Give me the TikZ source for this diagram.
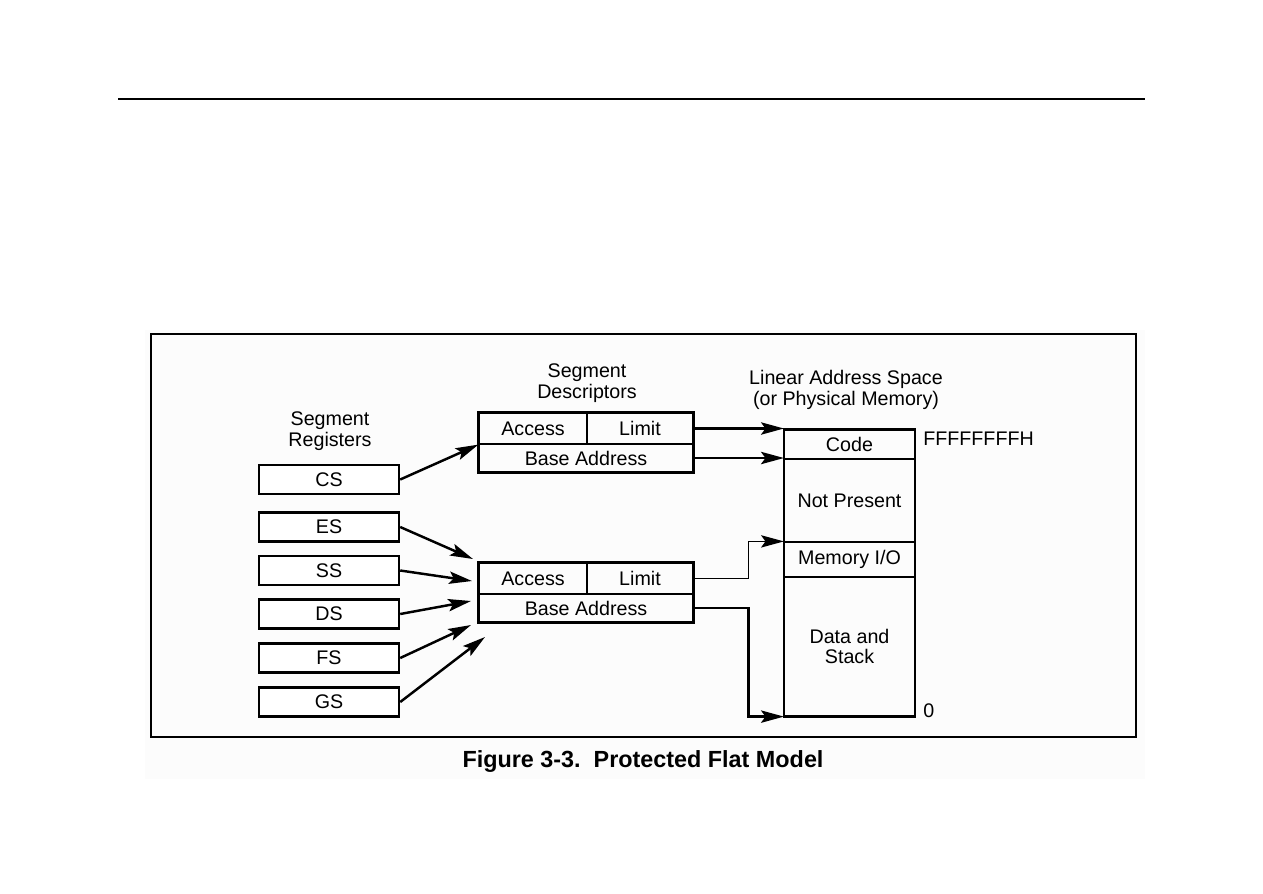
\documentclass[tikz,border=0pt]{standalone}
\usepackage{fontspec}
\setmainfont{Liberation Sans}
\usetikzlibrary{arrows.meta}

\begin{document}
\begin{tikzpicture}[x=0.02cm, y=-0.02cm,
  every node/.style={font=\fontsize{11.2}{11.6}\selectfont},
  box/.style={draw, line width=1.4pt, fill=white, inner sep=0pt, minimum height=0.58cm},
  reg/.style={box, minimum width=2.8cm},
  cell/.style={draw, line width=0.7pt, inner sep=0pt},
  mem/.style={cell, minimum width=2.6cm},
  lbl/.style={align=center, inner sep=0pt},
  ptr/.style={line width=1.4pt, -{Stealth[length=13pt, width=7pt, inset=2.5pt]}}]
  \useasboundingbox (0,0) rectangle (1263,893);
  \fill[gray!2] (145,330) rectangle (1145,779);
  \draw[line width=0.9pt] (118,99) -- (1145,99);
  \draw[line width=1.4pt] (151,334) rectangle (1136,737);

  % segment registers
  \node[lbl] (reglbl) at (330,431) {Segment\\Registers};
  \node[reg] (cs) at (329,479.5) {CS};
  \node[reg] (es) at (329,527) {ES};
  \node[reg] (ss) at (329,570.5) {SS};
  \node[reg] (ds) at (329,614) {DS};
  \node[reg] (fs) at (329,658) {FS};
  \node[reg] (gs) at (329,702) {GS};

  % segment descriptors
  \node[lbl] (desclbl) at (587,383) {Segment\\Descriptors};
  \node[cell, minimum width=2.16cm, minimum height=0.62cm] (acc1) at (533,428.5) {Access};
  \node[cell, minimum width=2.12cm, minimum height=0.62cm] (lim1) at (640,428.5) {Limit};
  \node[cell, minimum width=4.28cm, minimum height=0.56cm] (base1) at (586,458) {Base Address};
  \draw[line width=1.4pt] (acc1.north west) rectangle (base1.south east);
  \node[cell, minimum width=2.16cm, minimum height=0.62cm] (acc2) at (533,578.5) {Access};
  \node[cell, minimum width=2.12cm, minimum height=0.62cm] (lim2) at (640,578.5) {Limit};
  \node[cell, minimum width=4.28cm, minimum height=0.56cm] (base2) at (586,608) {Base Address};
  \draw[line width=1.4pt] (acc2.north west) rectangle (base2.south east);

  % linear address space
  \node[lbl] (memlbl) at (846,390) {Linear Address Space\\(or Physical Memory)};
  \node[mem, minimum height=0.58cm] (code) at (849.5,444.5) {Code};
  \node[mem, minimum height=1.66cm] (notp) at (849.5,500.5) {Not Present};
  \node[mem, minimum height=0.70cm] (mio) at (849.5,559.5) {Memory I/O};
  \node[mem, minimum height=2.78cm, align=center] (data) at (849.5,646.5) {Data and\\Stack};
  \draw[line width=1.4pt] (code.north west) rectangle (data.south east);
  \node[anchor=west, inner sep=0pt] (top) at (923,439) {FFFFFFFFH};
  \node[anchor=west, inner sep=0pt] (bot) at (923,711) {0};

  % arrows
  \coordinate (te) at (473,559);
  \coordinate (ts) at (472,581);
  \coordinate (td) at (471,601);
  \coordinate (tf) at (471,625);
  \coordinate (tg) at (485,637);
  \draw[ptr] (cs.east) -- (acc1.south west);
  \draw[ptr] (es.east) -- (te);
  \draw[ptr] (ss.east) -- (ts);
  \draw[ptr] (ds.east) -- (td);
  \draw[ptr] (fs.east) -- (tf);
  \draw[ptr] (gs.east) -- (tg);
  \draw[ptr] (lim1.east) -- (lim1.east -| code.west);
  \draw[ptr] (base1.east) -- (base1.east -| code.west);
  \draw[ptr, line width=0.8pt] (lim2.east) -- ++(55,0) |- (mio.north west);
  \draw[ptr] (base2.east) -- ++(55,0) |- (data.south west);

  \node[font=\fontsize{13.3}{15}\selectfont\bfseries] (caption) at (643,761)
    {Figure 3-3.\ \ Protected Flat Model};
\end{tikzpicture}
\end{document}
